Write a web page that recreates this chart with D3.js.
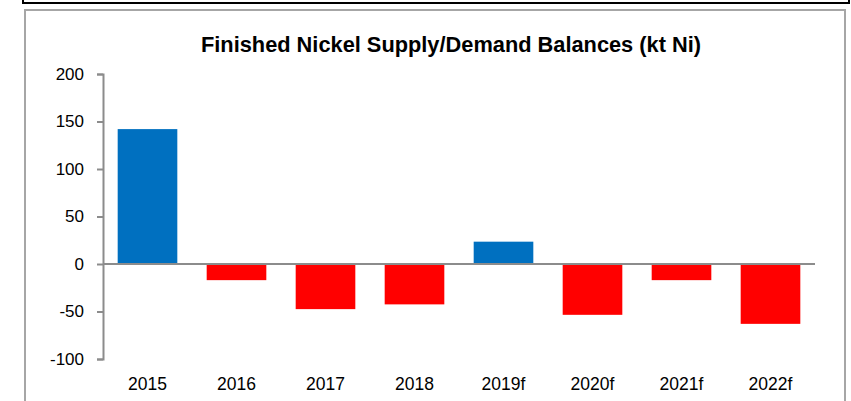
<!DOCTYPE html>
<html>
<head>
<meta charset="utf-8">
<script src="https://cdn.jsdelivr.net/npm/d3@7"></script>
<style>
  body { margin: 0; background: #fff; }
  text { font-family: "Liberation Sans", Arial, sans-serif; }
</style>
</head>
<body>
<div id="chart"></div>
<script>
const categories = ["2015", "2016", "2017", "2018", "2019f", "2020f", "2021f", "2022f"];
const balances = [142, -17, -47.5, -42.5, 23.5, -53.5, -17, -63];
const yTicks = [-100, -50, 0, 50, 100, 150, 200];

let width = 851,
    height = 401,
    margin = ({ top: 74, right: 36, bottom: 42, left: 103 });

const svg = d3.select("#chart")
  .append("svg")
  .attr("width", width)
  .attr("height", height);

// outer black box (mostly cropped off the top)
svg.append("rect")
  .attr("x", 23).attr("y", -20)
  .attr("width", 826).attr("height", 23)
  .attr("fill", "none")
  .attr("stroke", "#000")
  .attr("stroke-width", 2);

// grey chart frame
svg.append("rect")
  .attr("x", 25).attr("y", 10)
  .attr("width", 820).attr("height", 420)
  .attr("fill", "none")
  .attr("stroke", "#a6a6a6")
  .attr("stroke-width", 2);

svg.append("text")
  .attr("x", 201)
  .attr("y", 52)
  .attr("font-size", 22)
  .attr("font-weight", "bold")
  .attr("textLength", 500)
  .attr("lengthAdjust", "spacingAndGlyphs")
  .text("Finished Nickel Supply/Demand Balances (kt Ni)");

let x = d3.scaleBand()
  .domain(categories)
  .range([margin.left, 815])
  .paddingInner(0.33)
  .paddingOuter(0.165);

let y = d3.scaleLinear()
  .domain([-100, 200])
  .range([359, 74]);

svg.selectAll("rect.bar")
  .data(categories)
  .join("rect")
  .attr("class", "bar")
  .attr("x", d => x(d))
  .attr("width", x.bandwidth())
  .attr("y", (d, i) => y(Math.max(0, balances[i])))
  .attr("height", (d, i) => Math.abs(y(balances[i]) - y(0)))
  .attr("fill", (d, i) => balances[i] >= 0 ? "#0070c0" : "#ff0000");

// y axis
let yAxis = svg.append("g")
  .attr("transform", `translate(${margin.left},0)`)
  .call(d3.axisLeft(y).tickValues(yTicks).tickSize(6).tickPadding(13).tickFormat(d => String(d)));
yAxis.select(".domain").attr("stroke", "#8c8c8c").attr("stroke-width", 2);
yAxis.selectAll(".tick line").attr("stroke", "#8c8c8c").attr("stroke-width", 2);
yAxis.selectAll(".tick text")
  .attr("font-size", 17)
  .attr("fill", "#000")
  .style("font-family", "'Liberation Sans', Arial, sans-serif");

// zero line
svg.append("line")
  .attr("x1", margin.left).attr("x2", 815)
  .attr("y1", y(0)).attr("y2", y(0))
  .attr("stroke", "#8c8c8c")
  .attr("stroke-width", 2);

// category labels
svg.selectAll("text.cat")
  .data(categories)
  .join("text")
  .attr("class", "cat")
  .attr("x", d => x(d) + x.bandwidth() / 2)
  .attr("y", 390)
  .attr("text-anchor", "middle")
  .attr("font-size", 17.5)
  .text(d => d);
</script>
</body>
</html>
